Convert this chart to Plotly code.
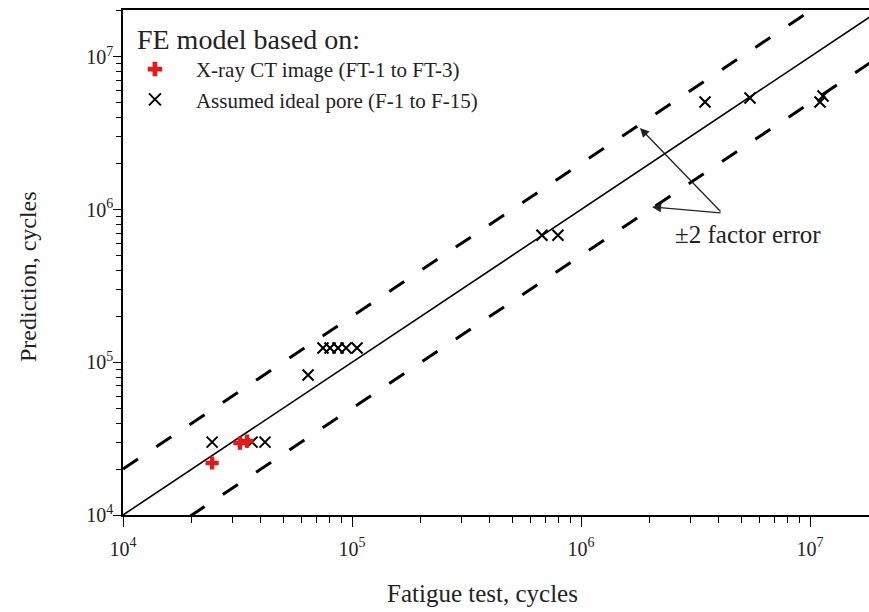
import plotly.graph_objects as go

# Data
ct_test = [24500, 32400, 34800]
ct_pred = [21900, 29600, 30500]

ideal_test = [24500, 36600, 41700, 64300, 74700, 80200, 86900, 94200, 105200,
              675000, 793000, 3480000, 5470000, 11060000, 11400000]
ideal_pred = [30000, 30000, 30000, 82500, 124000, 124000, 124000, 124000, 124000,
              680000, 680000, 5070000, 5380000, 5070000, 5550000]

line_x = [1e4, 2e7]
tick_vals = [1e4, 1e5, 1e6, 1e7]
tick_text = ["10<sup>4</sup>", "10<sup>5</sup>", "10<sup>6</sup>", "10<sup>7</sup>"]

FONT = "Liberation Serif"
TXT = "#222222"

fig = go.Figure()

# 1:1 line and factor-of-2 bands
fig.add_trace(go.Scatter(x=line_x, y=line_x, mode="lines",
                         line=dict(color="black", width=1.6), showlegend=False, hoverinfo="skip"))
fig.add_trace(go.Scatter(x=line_x, y=[v * 2 for v in line_x], mode="lines",
                         line=dict(color="black", width=3, dash="18px,22px"), showlegend=False, hoverinfo="skip"))
fig.add_trace(go.Scatter(x=line_x, y=[v / 2 for v in line_x], mode="lines",
                         line=dict(color="black", width=3, dash="18px,22px"), showlegend=False, hoverinfo="skip"))

fig.add_trace(go.Scatter(x=ideal_test, y=ideal_pred, mode="markers",
                         name="\u00a0\u00a0\u00a0\u00a0Assumed ideal pore (F-1 to F-15)",
                         marker=dict(symbol="x-thin", size=11, line=dict(color="black", width=2))))
fig.add_trace(go.Scatter(x=ct_test, y=ct_pred, mode="markers",
                         name="\u00a0\u00a0\u00a0\u00a0X-ray CT image (FT-1 to FT-3)",
                         marker=dict(symbol="cross", size=11, color="#e31a1c", line=dict(width=0))))

fig.update_layout(
    width=869, height=612,
    margin=dict(l=123, r=0, t=10, b=97),
    plot_bgcolor="white", paper_bgcolor="white",
    font=dict(family=FONT, color=TXT, size=21),
    legend=dict(x=0.016, y=0.995, xanchor="left", yanchor="top",
                bgcolor="rgba(0,0,0,0)", traceorder="reversed",
                title=dict(text="FE model based on:", side="top", font=dict(size=28)),
                font=dict(size=21), itemsizing="constant", tracegroupgap=0),
)

fig.update_xaxes(type="log", range=[4, 4 + 746 / 229], showgrid=False, zeroline=False,
                 showline=True, linecolor="black", linewidth=1.5, mirror=True,
                 ticks="outside", ticklen=10, tickwidth=1.3, tickcolor="black",
                 tickvals=tick_vals, ticktext=tick_text, tickfont=dict(size=20),
                 ticklabelstandoff=5,
                 minor=dict(ticks="outside", ticklen=6, tickwidth=1, tickcolor="black", dtick="D1", showgrid=False))
fig.update_yaxes(type="log", range=[4, 4 + 505 / 152.7], showgrid=False, zeroline=False,
                 showline=True, linecolor="black", linewidth=1.5,
                 ticks="outside", ticklen=8, tickwidth=1.3, tickcolor="black",
                 tickvals=tick_vals, ticktext=tick_text, tickfont=dict(size=20),
                 ticklabelstandoff=-4,
                 minor=dict(ticks="outside", ticklen=5, tickwidth=1, tickcolor="black", dtick="D1", showgrid=False))

# Axis titles (placed as in the reference)
fig.add_annotation(x=(482 - 123) / 746, y=-(593 - 515) / 505, xref="paper", yref="paper",
                   text="Fatigue test, cycles", showarrow=False, xanchor="center", yanchor="middle",
                   font=dict(size=25, family=FONT, color=TXT))
fig.add_annotation(x=-(123 - 28) / 746, y=(515 - 277) / 505, xref="paper", yref="paper",
                   text="Prediction, cycles", showarrow=False, textangle=-90,
                   xanchor="center", yanchor="middle",
                   font=dict(size=24, family=FONT, color=TXT))

# Annotation with two arrows
fig.add_annotation(x=6.2576, y=6.534, xref="x", yref="y", ax=82, ay=85, text="",
                   showarrow=True, arrowhead=2, arrowsize=1.4, arrowwidth=1.3, arrowcolor="#222")
fig.add_annotation(x=6.310, y=6.017, xref="x", yref="y", ax=70, ay=6, text="",
                   showarrow=True, arrowhead=2, arrowsize=1.4, arrowwidth=1.3, arrowcolor="#222")
fig.add_annotation(x=6.729, y=5.834, xref="x", yref="y", text="±2 factor error",
                   showarrow=False, font=dict(size=25, family=FONT, color=TXT))

fig.write_html("out.html")
